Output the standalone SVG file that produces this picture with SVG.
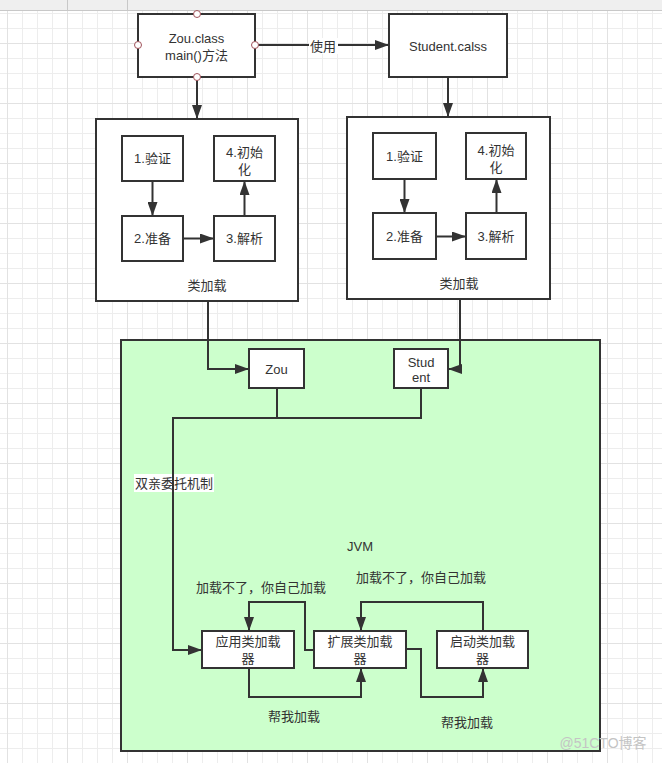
<svg xmlns="http://www.w3.org/2000/svg" width="662" height="763" viewBox="0 0 662 763">
<style>
  text { font-family: "Liberation Sans", "Noto Sans CJK SC", sans-serif; font-size: 13px; fill: #333; text-anchor: middle; }
  .box { fill: #fff; stroke: #333; stroke-width: 2; }
  .edge { fill: none; stroke: #333; stroke-width: 2; }
  .pt { fill: #fff; stroke: #a0525a; stroke-width: 1; }
  .lbl { fill: #fff; }
</style>
<defs>
  <pattern id="minor" patternUnits="userSpaceOnUse" x="7" y="13" width="15" height="15">
    <rect x="0" y="0" width="15" height="1" fill="#ededed"/>
    <rect x="0" y="0" width="1" height="15" fill="#ededed"/>
  </pattern>
  <pattern id="major" patternUnits="userSpaceOnUse" x="7" y="43" width="60" height="60">
    <rect x="0" y="0" width="60" height="1" fill="#e2e2e2"/>
    <rect x="0" y="0" width="1" height="60" fill="#e2e2e2"/>
  </pattern>
  <marker id="arr" markerUnits="userSpaceOnUse" markerWidth="14" markerHeight="10" refX="14" refY="5" orient="auto">
    <path d="M0,0 L14,5 L0,10 z" fill="#333"/>
  </marker>
</defs>

<!-- background -->
<rect x="0" y="0" width="662" height="763" fill="#fff"/>
<rect x="0" y="0" width="662" height="763" fill="url(#minor)"/>
<rect x="0" y="0" width="662" height="763" fill="url(#major)"/>
<rect x="0" y="0" width="662" height="10" fill="#efefef"/>
<line x1="0" y1="10.5" x2="662" y2="10.5" stroke="#c8c8c8"/>
<line x1="67.5" y1="0" x2="67.5" y2="10" stroke="#c8c8c8"/>
<line x1="127.5" y1="0" x2="127.5" y2="10" stroke="#c8c8c8"/>

<!-- containers -->
<g id="loader-left">
  <rect class="box" x="96" y="119" width="202" height="182"/>
  <text x="207" y="289.5">类加载</text>
</g>
<g id="loader-right">
  <rect class="box" x="347" y="117" width="203" height="182"/>
  <text x="459" y="287.5">类加载</text>
</g>
<g id="jvm">
  <rect x="121" y="340" width="479" height="411" fill="#ccffcc" stroke="#333" stroke-width="2"/>
  <text x="360" y="550.5">JVM</text>
</g>

<!-- nodes -->
<g id="zou-class">
  <rect class="box" x="138" y="14" width="117" height="63"/>
  <text x="196.5" y="42.5">Zou.class</text>
  <text x="196.5" y="59.5">main()方法</text>
</g>
<g id="student-class">
  <rect class="box" x="389" y="14" width="118" height="63"/>
  <text x="448" y="50.5">Student.calss</text>
</g>

<g id="l-verify">
  <rect class="box" x="122" y="136" width="61" height="45"/>
  <text x="152.5" y="163">1.验证</text>
</g>
<g id="l-init">
  <rect class="box" x="214" y="136" width="61" height="45"/>
  <text x="244.5" y="157">4.初始</text>
  <text x="244.5" y="173.5">化</text>
</g>
<g id="l-prepare">
  <rect class="box" x="122" y="216" width="61" height="45"/>
  <text x="152.5" y="243">2.准备</text>
</g>
<g id="l-resolve">
  <rect class="box" x="214" y="216" width="61" height="45"/>
  <text x="244.5" y="243">3.解析</text>
</g>

<g id="r-verify">
  <rect class="box" x="373" y="133" width="63" height="46"/>
  <text x="404.5" y="160.5">1.验证</text>
</g>
<g id="r-init">
  <rect class="box" x="466" y="133" width="60" height="46"/>
  <text x="496" y="155">4.初始</text>
  <text x="496" y="171.5">化</text>
</g>
<g id="r-prepare">
  <rect class="box" x="373" y="213" width="63" height="46"/>
  <text x="404.5" y="240.5">2.准备</text>
</g>
<g id="r-resolve">
  <rect class="box" x="466" y="213" width="60" height="46"/>
  <text x="496" y="240.5">3.解析</text>
</g>

<g id="zou">
  <rect class="box" x="249" y="349" width="55" height="39"/>
  <text x="276.5" y="373.5">Zou</text>
</g>
<g id="student">
  <rect class="box" x="394" y="349" width="54" height="39"/>
  <text x="421" y="366.5">Stud</text>
  <text x="421" y="382">ent</text>
</g>

<g id="parent-label">
  <rect class="lbl" x="134" y="474" width="80" height="18"/>
  <text x="135" y="488" style="text-anchor:start">双亲委托机制</text>
</g>

<g id="app-loader">
  <rect class="box" x="202" y="631" width="92" height="37"/>
  <text x="248" y="646">应用类加载</text>
  <text x="248" y="662.5">器</text>
</g>
<g id="ext-loader">
  <rect class="box" x="314" y="631" width="92" height="37"/>
  <text x="360" y="646">扩展类加载</text>
  <text x="360" y="662.5">器</text>
</g>
<g id="boot-loader">
  <rect class="box" x="437" y="631" width="91" height="37"/>
  <text x="482.5" y="646">启动类加载</text>
  <text x="482.5" y="662.5">器</text>
</g>

<!-- connectors -->
<g id="connectors">
  <path class="edge" d="M255,45 H389" marker-end="url(#arr)"/>
  <rect class="lbl" x="309" y="38" width="29" height="16"/>
  <text x="323" y="50.5">使用</text>
  <path class="edge" d="M197,77 V119" marker-end="url(#arr)"/>
  <path class="edge" d="M448,77 V117" marker-end="url(#arr)"/>

  <path class="edge" d="M152.5,181 V216" marker-end="url(#arr)"/>
  <path class="edge" d="M183,238.5 H214" marker-end="url(#arr)"/>
  <path class="edge" d="M244.5,216 V181" marker-end="url(#arr)"/>

  <path class="edge" d="M404.5,179 V213" marker-end="url(#arr)"/>
  <path class="edge" d="M436,236.5 H466" marker-end="url(#arr)"/>
  <path class="edge" d="M496.5,213 V179" marker-end="url(#arr)"/>

  <path class="edge" d="M208,301 V369 H249" marker-end="url(#arr)"/>
  <path class="edge" d="M460,299 V369 H448" marker-end="url(#arr)"/>

  <path class="edge" d="M277,388 V418"/>
  <path class="edge" d="M421,388 V418 H173 V650 H202" marker-end="url(#arr)"/>

  <path class="edge" d="M314,650 H305 V602 H249 V631" marker-end="url(#arr)"/>
  <path class="edge" d="M249,668 V697 H361 V668" marker-end="url(#arr)"/>
  <path class="edge" d="M483,631 V602 H361 V631" marker-end="url(#arr)"/>
  <path class="edge" d="M406,649 H421 V697 H483 V668" marker-end="url(#arr)"/>

  <text x="261" y="591.5">加载不了，你自己加载</text>
  <text x="421" y="581.5">加载不了，你自己加载</text>
  <text x="294" y="720.5">帮我加载</text>
  <text x="467" y="726.5">帮我加载</text>
</g>

<!-- connection points on Zou.class -->
<g id="zou-points">
  <circle class="pt" cx="197" cy="14" r="3.5"/>
  <circle class="pt" cx="138" cy="45" r="3.5"/>
  <circle class="pt" cx="255" cy="45" r="3.5"/>
  <circle class="pt" cx="197" cy="77" r="3.5"/>
</g>

<text x="603" y="748" style="fill:#c4c4c4;font-size:14px">@51CTO博客</text>
</svg>
